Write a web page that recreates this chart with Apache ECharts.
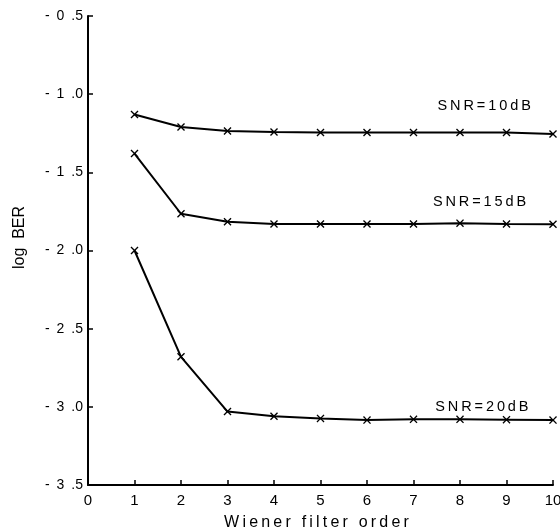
<!DOCTYPE html>
<html>
<head>
<meta charset="utf-8">
<script src="https://cdn.jsdelivr.net/npm/echarts@6/dist/echarts.min.js"></script>
<style>
  html, body { margin: 0; padding: 0; background: #fff; }
  #chart { width: 560px; height: 530px; }
</style>
</head>
<body>
<div id="chart"></div>
<script>
// Filter orders on the horizontal axis
const filterOrder = [1, 2, 3, 4, 5, 6, 7, 8, 9, 10];

// log BER for each signal-to-noise ratio
const snr10 = [-1.13, -1.21, -1.236, -1.242, -1.245, -1.245, -1.245, -1.245, -1.245, -1.255];
const snr15 = [-1.38, -1.765, -1.816, -1.831, -1.83, -1.83, -1.83, -1.825, -1.83, -1.832];
const snr20 = [-2.0, -2.68, -3.03, -3.06, -3.074, -3.085, -3.08, -3.08, -3.082, -3.085];

// Curve labels with their anchor point (order, log BER)
const curveNames = ['SNR=10dB', 'SNR=15dB', 'SNR=20dB'];
const labelAnchors = [[8.52, -1.076], [8.42, -1.69], [8.47, -3.0]];

const xTicks = [0, 1, 2, 3, 4, 5, 6, 7, 8, 9, 10];
const yMin = -3.5, yMax = -0.5, yStep = 0.5;

const font = 'Liberation Sans, Arial, sans-serif';
const crossPath = 'path://M0,1.2L1.2,0L5,3.8L8.8,0L10,1.2L6.2,5L10,8.8L8.8,10L5,6.2L1.2,10L0,8.8L3.8,5Z';

// Typewriter-style spacing: a thin space between letters
function spaced(s) {
  return s.split('').join('\u2009');
}

function makeSeries(name, values, anchor) {
  return {
    name: name,
    type: 'line',
    data: filterOrder.map((x, i) => [x, values[i]]),
    symbol: crossPath,
    symbolSize: 8,
    lineStyle: { color: '#000', width: 2 },
    itemStyle: { color: '#000' },
    animation: false,
    markPoint: {
      symbol: 'circle',
      symbolSize: 1,
      itemStyle: { color: 'rgba(0,0,0,0)' },
      data: [{ coord: anchor, value: name }],
      label: {
        show: true,
        position: 'inside',
        formatter: spaced(name),
        color: '#000',
        fontFamily: font,
        fontSize: 14.5
      }
    }
  };
}

const chart = echarts.init(document.getElementById('chart'));
chart.setOption({
  backgroundColor: '#fff',
  grid: { left: 88, right: 7, top: 16, bottom: 45, containLabel: false, outerBoundsMode: 'none' },
  xAxis: {
    type: 'value',
    min: xTicks[0],
    max: xTicks[xTicks.length - 1],
    interval: 1,
    name: spaced('Wiener filter order'),
    nameLocation: 'middle',
    nameGap: 30,
    nameTextStyle: { color: '#000', fontFamily: font, fontSize: 16, padding: [0, 8, 0, 0] },
    axisLine: { lineStyle: { color: '#000', width: 2 } },
    axisTick: { inside: true, length: 5, lineStyle: { color: '#000', width: 1.5 } },
    axisLabel: { color: '#000', fontFamily: font, fontSize: 15, margin: 8 },
    splitLine: { show: false }
  },
  yAxis: {
    type: 'value',
    min: yMin,
    max: yMax,
    interval: yStep,
    name: 'log  BER',
    nameLocation: 'middle',
    nameGap: 60,
    nameRotate: 90,
    nameTextStyle: { color: '#000', fontFamily: font, fontSize: 16, padding: [0, 0, 0, 26] },
    axisLine: { lineStyle: { color: '#000', width: 2 } },
    axisTick: { inside: true, length: 5, lineStyle: { color: '#000', width: 1.5 } },
    axisLabel: {
      color: '#000', fontFamily: font, fontSize: 14, margin: 5,
      formatter: v => {
        const s = Math.abs(v).toFixed(1).split('.');
        return '-\u2002' + s[0] + '\u2002.' + s[1];
      }
    },
    splitLine: { show: false }
  },
  series: [
    makeSeries(curveNames[0], snr10, labelAnchors[0]),
    makeSeries(curveNames[1], snr15, labelAnchors[1]),
    makeSeries(curveNames[2], snr20, labelAnchors[2])
  ]
});
</script>
</body>
</html>
